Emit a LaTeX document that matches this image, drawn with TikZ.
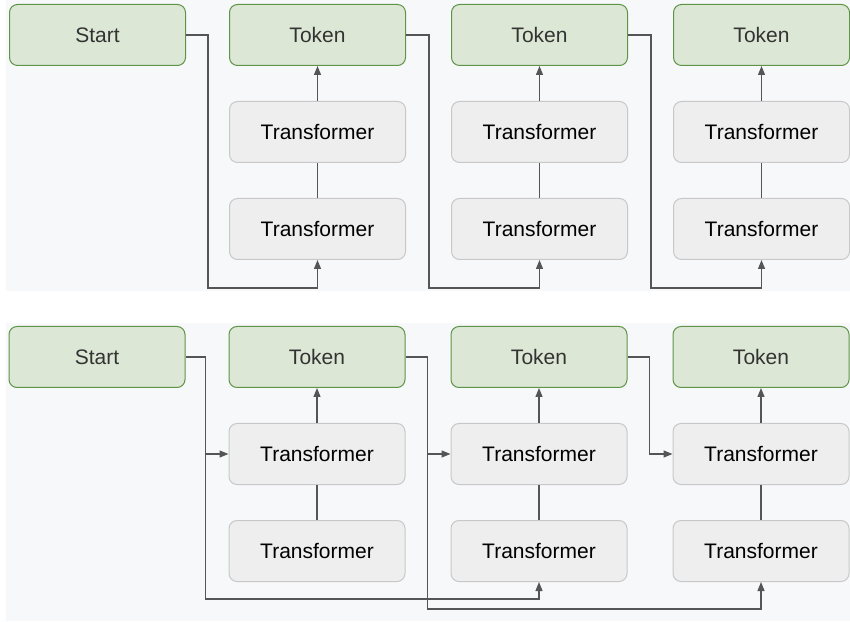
\documentclass[tikz,border=0pt]{standalone}
\usepackage{fontspec}
\setmainfont{Liberation Sans}
\usetikzlibrary{arrows.meta, positioning}
\definecolor{tokfill}{HTML}{DCE8D5}
\definecolor{tokdraw}{HTML}{5E9447}
\definecolor{trfill}{HTML}{EEEEEE}
\definecolor{trdraw}{HTML}{C8C8C8}
\definecolor{panel}{HTML}{F7F8FA}
\definecolor{wire}{HTML}{555555}
\definecolor{inkdark}{HTML}{333333}

\begin{document}
\begin{tikzpicture}[
  x=1pt, y=1pt,
  font=\fontsize{21}{25}\selectfont,
  tok/.style   = {draw=tokdraw, fill=tokfill, text=inkdark, rounded corners=8pt,
                  line width=1pt, minimum width=176pt, minimum height=61pt},
  tr/.style    = {draw=trdraw, fill=trfill, text=black, rounded corners=8pt,
                  line width=1pt, minimum width=176pt, minimum height=61pt},
  flow/.style  = {-{Triangle[length=9pt, width=7pt]}, draw=wire, line width=1.2pt},
  link/.style  = {draw=wire, line width=1.2pt},
]
\useasboundingbox (0,0) rectangle (850,621);

% ---- panels
\fill[panel] (6,330) rectangle (850,621);
\fill[panel] (6,0) rectangle (850,298);

% ---- top: every layer waits for the previous token
\node[tok] (start) at (97.5,586) {Start};
\node[tok, right=43pt of start] (tok1) {Token};
\node[tok, right=45pt of tok1]  (tok2) {Token};
\node[tok, right=45pt of tok2]  (tok3) {Token};
\node[tr, below=35pt of tok1] (tra1) {Transformer};
\node[tr, below=35pt of tra1] (trb1) {Transformer};
\node[tr, below=35pt of tok2] (tra2) {Transformer};
\node[tr, below=35pt of tra2] (trb2) {Transformer};
\node[tr, below=35pt of tok3] (tra3) {Transformer};
\node[tr, below=35pt of tra3] (trb3) {Transformer};

\draw[link] (trb1) -- (tra1);
\draw[link] (trb2) -- (tra2);
\draw[link] (trb3) -- (tra3);
\draw[flow] (tra1) -- (tok1);
\draw[flow] (tra2) -- (tok2);
\draw[flow] (tra3) -- (tok3);
\draw[flow] (start.east) -- ++(22pt,0) |- ([yshift=-28pt]trb1.south) -- (trb1.south);
\draw[flow] (tok1.east)  -- ++(23pt,0) |- ([yshift=-28pt]trb2.south) -- (trb2.south);
\draw[flow] (tok2.east)  -- ++(23pt,0) |- ([yshift=-28pt]trb3.south) -- (trb3.south);

% ---- bottom: layers are offset, so they run side by side
\node[tok] (start2) at (97,264) {Start};
\node[tok, right=43pt of start2] (tok4) {Token};
\node[tok, right=45pt of tok4]   (tok5) {Token};
\node[tok, right=45pt of tok5]   (tok6) {Token};
\node[tr, below=35pt of tok4] (tra4) {Transformer};
\node[tr, below=35pt of tra4] (trb4) {Transformer};
\node[tr, below=35pt of tok5] (tra5) {Transformer};
\node[tr, below=35pt of tra5] (trb5) {Transformer};
\node[tr, below=35pt of tok6] (tra6) {Transformer};
\node[tr, below=35pt of tra6] (trb6) {Transformer};

\draw[link] (trb4) -- (tra4);
\draw[link] (trb5) -- (tra5);
\draw[link] (trb6) -- (tra6);
\draw[flow] (tra4) -- (tok4);
\draw[flow] (tra5) -- (tok5);
\draw[flow] (tra6) -- (tok6);
\draw[flow] (start2.east) -- ++(20pt,0) |- (tra4.west);
\draw[flow] ([xshift=20pt]start2.east) |- ([yshift=-17pt]trb5.south) -- (trb5.south);
\draw[flow] (tok4.east) -- ++(22pt,0) |- (tra5.west);
\draw[flow] ([xshift=22pt]tok4.east) |- ([yshift=-27pt]trb6.south) -- (trb6.south);
\draw[flow] (tok5.east) -- ++(22pt,0) |- (tra6.west);

\end{tikzpicture}
\end{document}
